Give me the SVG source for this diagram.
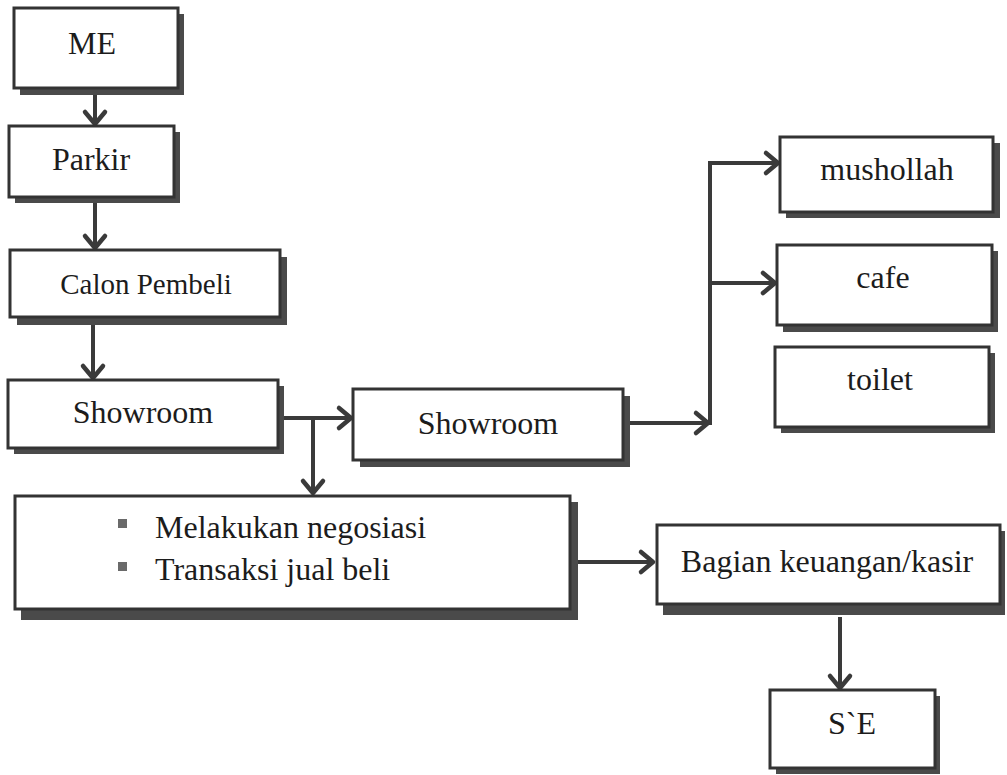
<svg xmlns="http://www.w3.org/2000/svg" width="1007" height="775" viewBox="0 0 1007 775">
  <style>
    .shadow { fill: #4a4a4a; }
    .box { fill: #ffffff; stroke: #333333; stroke-width: 3; }
    .label { font-family: "Liberation Serif", "Times New Roman", serif; font-size: 32px; fill: #1c1c1c; text-anchor: middle; }
    .item { font-family: "Liberation Serif", "Times New Roman", serif; font-size: 32px; fill: #1c1c1c; }
    .bullet { fill: #6a6a6a; }
    .conn { fill: none; stroke: #3a3a3a; stroke-width: 4; }
  </style>
  <defs>
    <marker id="chev" markerUnits="userSpaceOnUse" viewBox="-16 -14 20 28" refX="0" refY="0" markerWidth="20" markerHeight="28" orient="auto">
      <path d="M-12,-10 L0,0 L-12,10" fill="none" stroke="#3a3a3a" stroke-width="4.5" stroke-linecap="round" stroke-linejoin="round"/>
    </marker>
  </defs>
  <rect width="1007" height="775" fill="#ffffff"/>

  <!-- connectors -->
  <g id="connectors">
    <line class="conn" x1="95" y1="95" x2="95" y2="124" marker-end="url(#chev)"/>
    <line class="conn" x1="95" y1="202" x2="95" y2="248" marker-end="url(#chev)"/>
    <line class="conn" x1="93" y1="325" x2="93" y2="378" marker-end="url(#chev)"/>
    <line class="conn" x1="283" y1="418" x2="351" y2="418" marker-end="url(#chev)"/>
    <line class="conn" x1="313" y1="418" x2="313" y2="493" marker-end="url(#chev)"/>
    <line class="conn" x1="630" y1="423" x2="708" y2="423" marker-end="url(#chev)"/>
    <polyline class="conn" points="710,425 710,163 778,163" marker-end="url(#chev)"/>
    <line class="conn" x1="710" y1="283" x2="775" y2="283" marker-end="url(#chev)"/>
    <line class="conn" x1="578" y1="562" x2="653" y2="562" marker-end="url(#chev)"/>
    <line class="conn" x1="840" y1="617" x2="840" y2="688" marker-end="url(#chev)"/>
  </g>

  <g id="node-me">
    <rect class="shadow" x="20" y="14" width="164" height="81"/>
    <rect class="box" x="14" y="8" width="164" height="80"/>
    <text class="label" x="92" y="54">ME</text>
  </g>

  <g id="node-parkir">
    <rect class="shadow" x="15" y="132" width="165" height="71"/>
    <rect class="box" x="9" y="126" width="165" height="71"/>
    <text class="label" x="91" y="170">Parkir</text>
  </g>

  <g id="node-calon-pembeli">
    <rect class="shadow" x="17" y="257" width="270" height="68"/>
    <rect class="box" x="10" y="250" width="270" height="67"/>
    <text class="label" x="146" y="294" style="font-size:29px">Calon Pembeli</text>
  </g>

  <g id="node-showroom-1">
    <rect class="shadow" x="14" y="386" width="270" height="68"/>
    <rect class="box" x="8" y="380" width="270" height="68"/>
    <text class="label" x="143" y="423">Showroom</text>
  </g>

  <g id="node-showroom-2">
    <rect class="shadow" x="360" y="396" width="270" height="71"/>
    <rect class="box" x="353" y="389" width="270" height="71"/>
    <text class="label" x="488" y="434">Showroom</text>
  </g>

  <g id="node-mushollah">
    <rect class="shadow" x="786" y="143" width="214" height="75"/>
    <rect class="box" x="780" y="137" width="213" height="75"/>
    <text class="label" x="887" y="180">mushollah</text>
  </g>

  <g id="node-cafe">
    <rect class="shadow" x="783" y="251" width="215" height="81"/>
    <rect class="box" x="777" y="245" width="215" height="80"/>
    <text class="label" x="883" y="288">cafe</text>
  </g>

  <g id="node-toilet">
    <rect class="shadow" x="781" y="353" width="214" height="80"/>
    <rect class="box" x="775" y="347" width="214" height="80"/>
    <text class="label" x="880" y="390">toilet</text>
  </g>

  <g id="node-negosiasi">
    <rect class="shadow" x="21" y="502" width="557" height="118"/>
    <rect class="box" x="15" y="496" width="555" height="113"/>
    <rect class="bullet" x="118" y="519" width="9" height="9"/>
    <text class="item" x="155" y="538">Melakukan negosiasi</text>
    <rect class="bullet" x="118" y="562" width="9" height="9"/>
    <text class="item" x="155" y="580">Transaksi jual beli</text>
  </g>

  <g id="node-kasir">
    <rect class="shadow" x="663" y="531" width="342" height="84"/>
    <rect class="box" x="657" y="525" width="343" height="79"/>
    <text class="label" x="827" y="572">Bagian keuangan/kasir</text>
  </g>

  <g id="node-se">
    <rect class="shadow" x="776" y="696" width="164" height="78"/>
    <rect class="box" x="770" y="690" width="165" height="78"/>
    <text class="label" x="852" y="734">S`E</text>
  </g>
</svg>
